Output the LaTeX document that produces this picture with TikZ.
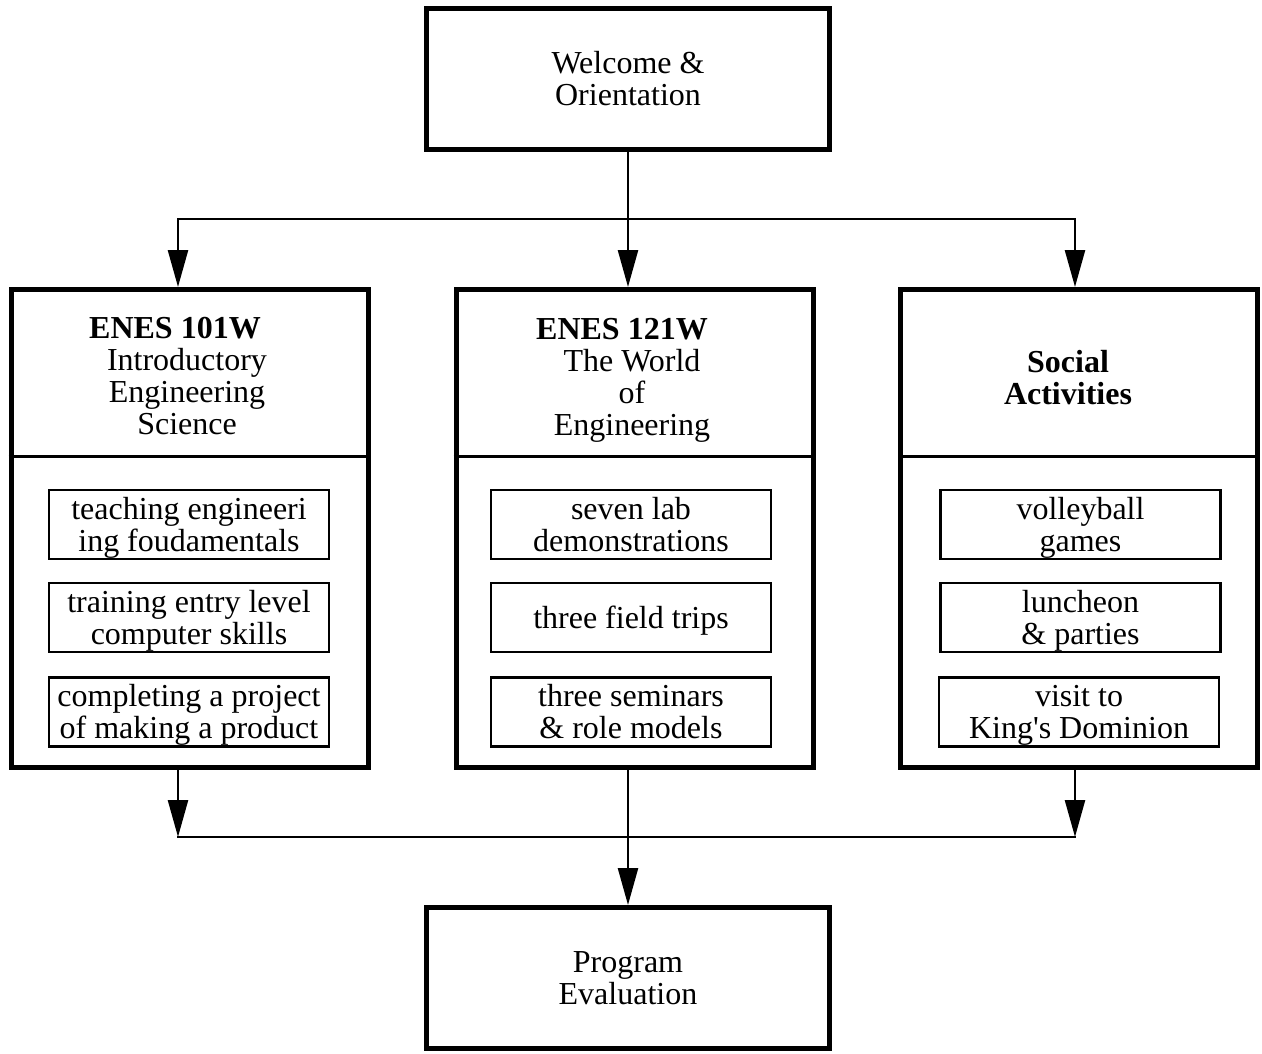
\documentclass[tikz,border=0pt]{standalone}
\usepackage{fontspec}
\setmainfont{Liberation Serif}
\usetikzlibrary{arrows.meta}
\begin{document}
\begin{tikzpicture}[x=1pt,y=-1pt,
  txt/.style={font=\fontsize{32}{32}\selectfont, align=center, inner sep=0pt},
  bigbox/.style={draw, line width=5pt, minimum width=357pt, minimum height=478pt, inner sep=0pt},
  endbox/.style={draw, line width=5pt, minimum width=403pt, minimum height=141pt, txt},
  itembox/.style={draw, line width=2.5pt, minimum width=280pt, minimum height=69pt, txt, text depth=1pt},
  conn/.style={line width=2.5pt},
  arr/.style={conn, -{Triangle[length=37pt,width=20pt]}},
  divider/.style={line width=3pt}
]
\useasboundingbox (0,0) rectangle (1262,1054);

% end boxes
\node[endbox] (welcome) at (628,79) {Welcome \&\\Orientation};
\node[endbox] (eval) at (628,978) {Program\\Evaluation};

% big boxes
\node[bigbox] (lbox) at (189.5,528.5) {};
\node[bigbox] (mbox) at (634.5,528.5) {};
\node[bigbox] (rbox) at (1079,528.5) {};

\draw[divider] ([yshift=-169pt]lbox.north west) -- ([yshift=-169pt]lbox.north east);
\draw[divider] ([yshift=-169pt]mbox.north west) -- ([yshift=-169pt]mbox.north east);
\draw[divider] ([yshift=-169pt]rbox.north west) -- ([yshift=-169pt]rbox.north east);

% headers
\node[txt] (lhead) at (187,376) {{\bfseries ENES 101W}\hspace*{24pt}\\Introductory\\Engineering\\Science};
\node[txt] (mhead) at (632,380) {{\bfseries ENES 121W}\hspace*{20pt}\\The World\\of\\Engineering};
\node[txt] (rhead) at (1068,378) {{\bfseries Social}\\{\bfseries Activities}};

% items
\node[itembox] (l1) at (189,524.5) {teaching engineeri\\ing foudamentals};
\node[itembox] (l2) at (189,617.5) {training entry level\\computer skills};
\node[itembox] (l3) at (189,712) {completing a project\\of making a product};

\node[itembox] (m1) at (631,524.5) {seven lab\\demonstrations};
\node[itembox] (m2) at (631,617.5) {three field trips};
\node[itembox] (m3) at (631,712) {three seminars\\\& role models};

\node[itembox] (r1) at (1080.5,524.5) {volleyball\\games};
\node[itembox] (r2) at (1080.5,617.5) {luncheon\\\& parties};
\node[itembox] (r3) at (1079,712) {visit to\\King\textquotesingle s Dominion};

% connectors top
\coordinate (jl) at (178,219);
\coordinate (jr) at (1075,219);
\draw[arr] (welcome.south) -- (welcome.south |- mbox.north);
\draw[arr] (welcome.south |- jl) -| (lbox.north -| jl);
\draw[arr] (welcome.south |- jr) -| (rbox.north -| jr);

% connectors bottom
\coordinate (bl) at (178,837);
\coordinate (br) at (1075,837);
\coordinate (bc) at (628,837);
\draw[arr] (lbox.south -| bl) -- (bl);
\draw[arr] (rbox.south -| br) -- (br);
\draw[conn, line cap=rect] (bl) -- (br);
\draw[arr] (mbox.south -| bc) -- (eval.north);
\end{tikzpicture}
\end{document}
